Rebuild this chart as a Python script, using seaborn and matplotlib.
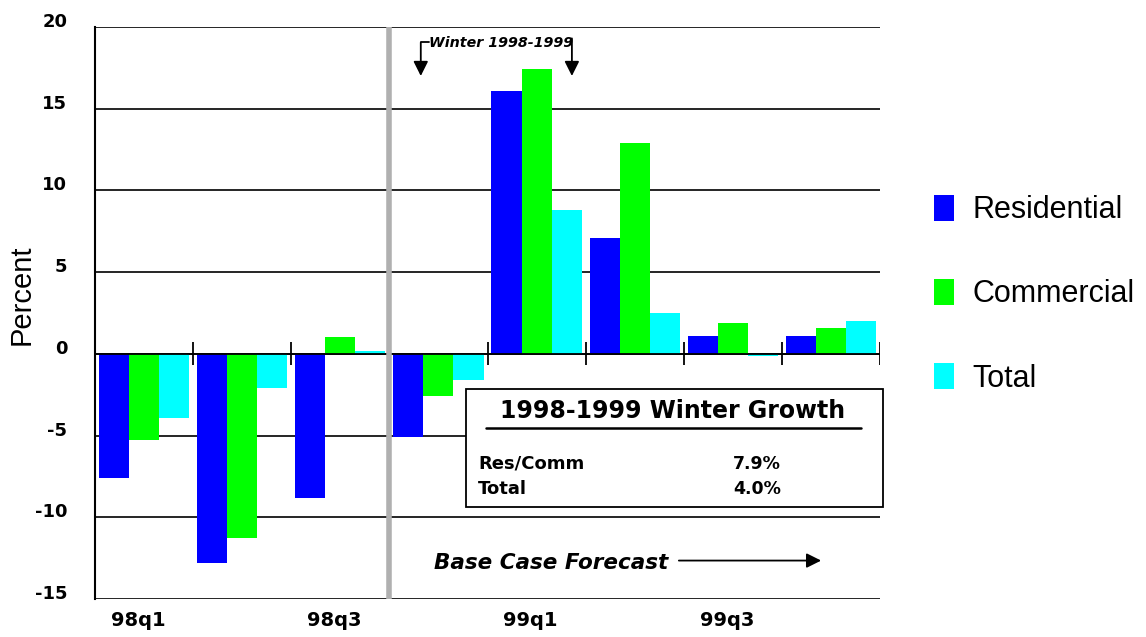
import numpy as np
import pandas as pd
import seaborn as sns
import matplotlib
matplotlib.use("Agg")
import matplotlib.pyplot as plt
import matplotlib.transforms as mtransforms
from matplotlib.patches import Rectangle

# Quarterly growth (percent) by customer class
quarters = ["98q1", "98q2", "98q3", "98q4", "99q1", "99q2", "99q3", "99q4"]
tick_labels = ["98q1", "", "98q3", "", "99q1", "", "99q3", ""]
residential = [-7.6, -12.8, -8.8, -5.1, 16.1, 7.1, 1.1, 1.1]
commercial = [-5.3, -11.3, 1.0, -2.6, 17.4, 12.9, 1.9, 1.6]
total = [-3.9, -2.1, 0.2, -1.6, 8.8, 2.5, -0.15, 2.0]
series_names = ["Residential", "Commercial", "Total"]
colors = ["#0000FF", "#00FF00", "#00FFFF"]
y_ticks = [-15, -10, -5, 0, 5, 10, 15, 20]

growth_title = "1998-1999 Winter Growth"
growth_rows = ["Res/Comm", "Total"]
growth_values = ["7.9%", "4.0%"]

df = pd.DataFrame({
    "quarter": quarters * 3,
    "series": np.repeat(series_names, len(quarters)),
    "value": residential + commercial + total,
})

sns.set_style("white")
plt.rcParams["font.family"] = ["DejaVu Sans"]
plt.rcParams.update({
    "text.color": "black",
    "axes.labelcolor": "black",
    "xtick.color": "black",
    "ytick.color": "black",
    "axes.unicode_minus": False,
})

fig = plt.figure(figsize=(11.46, 6.37), dpi=100)
ax = fig.add_axes([0.0829, 0.0597, 0.685, 0.898])

sns.barplot(data=df, x="quarter", y="value", hue="series", order=quarters,
            hue_order=series_names, palette=colors, width=0.92, saturation=1,
            linewidth=0, errorbar=None, ax=ax)

ax.set_xlim(-0.5, len(quarters) - 0.5)
ax.set_ylim(-15, 20)
ax.set_axisbelow(True)

# Horizontal rules at each major tick
ax.set_yticks(y_ticks)
ax.yaxis.grid(True, color="black", linewidth=1.2)
ax.xaxis.grid(False)
for s in ["top", "right", "bottom"]:
    ax.spines[s].set_visible(False)
ax.spines["left"].set_color("black")
ax.spines["left"].set_linewidth(1.5)

ax.tick_params(axis="y", direction="inout", length=22, width=1.4, color="black",
               pad=9, labelsize=13)
for lab in ax.get_yticklabels():
    lab.set_fontweight("bold")
    lab.set_transform(lab.get_transform() +
                      mtransforms.ScaledTranslation(0, 0.07, fig.dpi_scale_trans))

ax.set_xticks(range(len(quarters)))
ax.set_xticklabels(tick_labels, fontsize=14, fontweight="bold")
ax.tick_params(axis="x", length=0, pad=9)
for lab in ax.get_xticklabels():
    lab.set_transform(lab.get_transform() +
                      mtransforms.ScaledTranslation(-0.06, 0, fig.dpi_scale_trans))
ax.set_xlabel("")
ax.set_ylabel("Percent", family=["Liberation Sans"], fontsize=21)
ax.yaxis.set_label_coords(-0.076, 0.531)

# Zero line with group separators
ax.axhline(0, color="black", linewidth=1.3, zorder=4)
bounds = np.arange(len(quarters)) + 0.5
ax.vlines(bounds, -0.7, 0.7, color="black", linewidth=1.3, zorder=4)

# Start of forecast period
ax.axvline(2.5, color="#b0b0b0", linewidth=4, zorder=5)

arrow_kw = dict(arrowstyle="-|>", color="black", lw=1.3,
                mutation_scale=22, shrinkA=0, shrinkB=0)

# Winter bracket
ax.annotate("", xy=(2.82, 17.0), xytext=(2.82, 19.05), arrowprops=arrow_kw)
ax.plot([2.82, 2.9], [19.05, 19.05], color="black", lw=1.3)
ax.annotate("", xy=(4.36, 17.0), xytext=(4.36, 19.3), arrowprops=arrow_kw)
ax.text(2.9, 19.0, "Winter 1998-1999", fontsize=10.3, fontweight="bold",
        fontstyle="italic", va="center", ha="left")

# Forecast label
ax.text(2.95, -12.8, "Base Case Forecast", fontsize=15.5, fontweight="bold",
        fontstyle="italic", va="center", ha="left")
ax.annotate("", xy=(6.9, -12.65), xytext=(5.45, -12.65), arrowprops=arrow_kw)

# Winter growth summary box
box = Rectangle((0.4726, 0.161), 0.531, 0.206, transform=ax.transAxes,
                facecolor="white", edgecolor="black", linewidth=1.3,
                zorder=6, clip_on=False)
ax.add_patch(box)
ax.text(0.736, 0.329, growth_title, transform=ax.transAxes, fontsize=17,
        fontweight="bold", ha="center", va="center", zorder=7)
ax.plot([0.498, 0.976], [0.299, 0.299], transform=ax.transAxes, color="black",
        lw=1.8, zorder=7, clip_on=False)
row_y = [0.236, 0.192]
for yy, name, val in zip(row_y, growth_rows, growth_values):
    ax.text(0.488, yy, name, transform=ax.transAxes, fontsize=13,
            fontweight="bold", ha="left", va="center", zorder=7)
    ax.text(0.813, yy, val, transform=ax.transAxes, fontsize=12.5,
            fontweight="bold", ha="left", va="center", zorder=7)

# Legend to the right of the plot
sns.move_legend(ax, "upper left", bbox_to_anchor=(1.034, 0.755), frameon=False,
                title=None, fontsize=22, handlelength=0.65, handleheight=0.95,
                handletextpad=0.6, labelspacing=1.75)
for t in ax.get_legend().get_texts():
    t.set_family(["Liberation Sans"])
    t.set_color("black")

fig.savefig("out.png", dpi=100, facecolor="white")
